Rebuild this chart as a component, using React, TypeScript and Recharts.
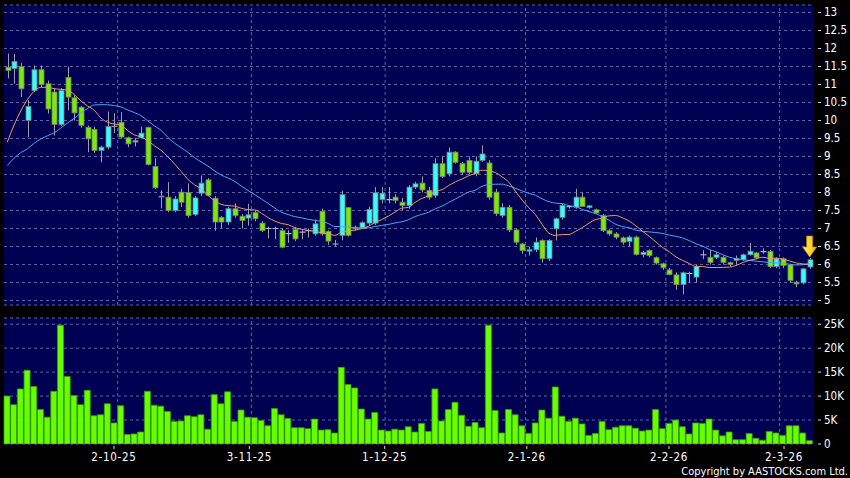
import React from 'react';
import {
  ComposedChart, Bar, Line, XAxis, YAxis, CartesianGrid, ReferenceLine, ReferenceDot,
} from 'recharts';

// daily candles, oldest first
const opens = [
  11.48, 11.44, 11.5, 10.0, 10.83, 11.41, 11.02, 10.79, 9.89, 11.2,
  10.63, 10.37, 9.81, 9.75, 9.17, 9.26, 9.84, 9.95, 9.52, 9.4,
  9.52, 9.81, 8.72, 7.9, 7.87, 7.5, 8.01, 8.0, 7.39, 7.98,
  8.35, 7.84, 7.31, 7.18, 7.55, 7.34, 7.29, 7.44, 7.15, 7.0,
  7.0, 6.94, 6.86, 6.97, 6.9, 6.94, 6.85, 7.48, 6.92, 6.57,
  6.81, 7.58, 7.0, 7.02, 7.15, 7.15, 7.8, 7.8, 7.87, 7.73,
  7.64, 8.15, 8.26, 8.06, 7.92, 8.8, 8.52, 9.12, 8.8, 8.89,
  8.52, 8.89, 8.82, 8.01, 7.36, 7.59, 6.96, 6.57, 6.37, 6.41,
  6.67, 6.16, 6.99, 7.31, 7.61, 7.59, 7.87, 7.58, 7.52, 7.36,
  6.94, 6.85, 6.74, 6.64, 6.76, 6.28, 6.39, 6.19, 6.02, 5.85,
  5.71, 5.44, 5.75, 5.65, 6.27, 6.2, 6.2, 6.2, 6.05, 6.11,
  6.14, 6.27, 6.32, 6.36, 6.36, 5.94, 6.16, 5.99, 5.51, 5.49,
  5.93,
];
const highs = [
  11.86, 11.85, 11.6, 10.56, 11.53, 11.53, 11.11, 10.9, 10.9, 11.5,
  10.7, 10.4, 9.86, 9.83, 9.3, 10.25, 10.2, 10.23, 9.55, 9.52,
  9.83, 9.83, 8.95, 8.06, 8.29, 7.9, 8.1, 8.25, 7.9, 8.47,
  8.4, 7.9, 7.35, 7.6, 7.7, 7.4, 7.69, 7.5, 7.2, 7.05,
  7.05, 7.0, 6.95, 7.05, 6.95, 7.0, 7.25, 7.55, 6.95, 6.68,
  8.05, 7.6, 7.08, 7.2, 7.6, 8.15, 8.15, 8.15, 7.95, 7.85,
  8.2, 8.3, 8.45, 8.15, 8.95, 9.0, 9.25, 9.15, 8.85, 9.0,
  9.0, 9.31, 8.9, 8.1, 7.7, 7.65, 7.0, 6.6, 6.5, 6.75,
  6.7, 6.7, 7.3, 7.7, 7.65, 8.1, 8.0, 7.65, 7.55, 7.4,
  6.98, 6.9, 6.78, 6.8, 6.8, 6.38, 6.42, 6.22, 6.05, 5.9,
  5.78, 5.8, 5.8, 6.0, 6.4, 6.4, 6.35, 6.25, 6.08, 6.25,
  6.3, 6.6, 6.35, 6.45, 6.4, 6.2, 6.2, 6.02, 5.55, 5.9,
  6.18,
];
const lows = [
  11.17, 11.02, 10.65, 9.54, 10.79, 10.93, 10.19, 9.58, 9.85, 10.28,
  10.0, 9.8, 9.12, 9.1, 8.84, 9.2, 9.65, 9.5, 9.26, 9.28,
  9.5, 8.75, 8.1, 7.56, 7.45, 7.45, 7.6, 7.3, 7.35, 7.9,
  7.9, 6.94, 7.0, 7.1, 7.3, 7.0, 7.08, 7.2, 6.9, 6.72,
  6.7, 6.45, 6.6, 6.65, 6.7, 6.75, 6.8, 6.8, 6.55, 6.5,
  6.67, 6.78, 6.95, 7.0, 7.1, 7.1, 7.7, 7.7, 7.7, 7.5,
  7.55, 8.1, 8.0, 7.8, 7.85, 8.4, 8.45, 8.8, 8.5, 8.5,
  8.45, 8.85, 7.8, 7.35, 7.3, 6.9, 6.55, 6.3, 6.25, 6.35,
  6.05, 6.1, 6.67, 7.25, 7.55, 7.55, 7.6, 7.55, 7.4, 6.9,
  6.8, 6.7, 6.55, 6.5, 6.25, 6.2, 6.2, 6.0, 5.85, 5.7,
  5.3, 5.17, 5.5, 5.5, 6.15, 6.0, 6.15, 6.0, 5.95, 6.0,
  6.1, 6.25, 6.15, 6.3, 5.9, 5.9, 5.9, 5.5, 5.37, 5.45,
  5.88,
];
const closes = [
  11.39, 11.64, 10.88, 10.39, 11.41, 11.0, 10.32, 9.89, 10.83, 10.65,
  10.21, 9.86, 9.49, 9.17, 9.26, 9.83, 9.84, 9.54, 9.35, 9.44,
  9.65, 8.78, 8.13, 7.89, 7.5, 7.82, 7.73, 7.36, 7.85, 8.26,
  7.92, 7.18, 7.18, 7.55, 7.36, 7.22, 7.38, 7.27, 6.94, 7.0,
  7.0, 6.48, 6.86, 6.71, 6.9, 6.94, 7.13, 6.85, 6.65, 6.57,
  7.94, 6.81, 7.02, 7.16, 7.53, 7.99, 7.98, 7.8, 7.78, 7.64,
  8.15, 8.24, 8.07, 7.87, 8.8, 8.44, 9.12, 8.84, 8.56, 8.56,
  8.87, 9.07, 7.87, 7.41, 7.59, 6.96, 6.62, 6.39, 6.41, 6.62,
  6.16, 6.67, 7.27, 7.64, 7.61, 7.87, 7.61, 7.63, 7.43, 6.94,
  6.85, 6.76, 6.62, 6.76, 6.28, 6.34, 6.25, 6.04, 5.91, 5.72,
  5.44, 5.77, 5.75, 5.94, 6.27, 6.06, 6.27, 6.06, 6.0, 6.16,
  6.27, 6.37, 6.19, 6.36, 5.94, 6.16, 5.97, 5.56, 5.46, 5.88,
  6.13,
];
// closes before the first visible day (only feed the moving averages)
const priorCloses = [
  7.6, 7.8, 8.2, 8.4, 8.6, 8.5, 8.3, 8.1, 7.9, 7.6,
  6.9, 7.0, 7.2, 9.1, 9.9, 10.3, 10.3, 11.0, 10.9,
];
// volume, thousands of shares
const volumes = [
  10.0, 8.2, 11.5, 15.4, 12.0, 7.2, 5.6, 11.0, 24.8, 14.1,
  10.1, 8.2, 11.2, 5.9, 6.1, 8.4, 4.4, 8.0, 2.0, 2.1,
  2.5, 11.0, 8.1, 7.9, 6.8, 4.7, 4.8, 5.9, 5.7, 6.1,
  3.1, 10.3, 8.4, 10.9, 4.7, 7.1, 5.6, 5.5, 4.9, 3.8,
  7.4, 6.1, 5.3, 3.4, 3.4, 3.2, 5.2, 2.9, 3.0, 2.3,
  16.0, 12.4, 11.7, 7.3, 5.2, 6.6, 2.9, 2.7, 3.1, 2.9,
  3.6, 2.5, 4.3, 2.6, 11.5, 4.8, 7.2, 8.7, 6.0, 3.7,
  4.5, 3.4, 24.8, 7.0, 2.3, 7.2, 6.1, 3.8, 2.2, 4.4,
  7.1, 5.4, 11.9, 5.8, 4.7, 5.4, 4.2, 1.8, 2.2, 4.7,
  3.0, 3.5, 3.8, 3.8, 3.3, 2.7, 2.9, 7.2, 3.2, 4.3,
  5.0, 3.6, 2.1, 4.4, 4.3, 5.2, 2.9, 1.7, 2.5, 0.9,
  0.9, 2.2, 1.2, 0.8, 2.6, 2.3, 1.8, 3.8, 3.8, 2.3,
  0.7,
];

const dateTickIdx = [16, 36, 56, 77, 98, 115];
const dateTickLabels = ['2-10-25', '3-11-25', '1-12-25', '2-1-26', '2-2-26', '2-3-26'];
const priceTicks = [5, 5.5, 6, 6.5, 7, 7.5, 8, 8.5, 9, 9.5, 10, 10.5, 11, 11.5, 12, 12.5, 13];
const volTicks = [0, 5, 10, 15, 20, 25];

const allCloses = [...priorCloses, ...closes];
const movingAvg = (n: number, i: number) => {
  const end = i + priorCloses.length;
  let s = 0;
  for (let k = end - n + 1; k <= end; k++) s += allCloses[k];
  return s / n;
};

const rows = closes.map((c, i) => ({
  i,
  o: opens[i],
  h: highs[i],
  l: lows[i],
  c,
  v: volumes[i],
  ma10: movingAvg(10, i),
  ma20: movingAvg(20, i),
}));

const BG = '#000052';
const GRID = '#6262a4';
const UP = '#33ffff';
const DOWN = '#77ee00';
const FONT = "'DejaVu Sans Condensed', 'DejaVu Sans', sans-serif";
const VOL_PLOT_BOTTOM = 134; // inside the volume chart's svg

const Candle = (props: any) => {
  const { x, y, width, height, payload } = props;
  const { o, h, l, c } = payload;
  const span = h - l || 1;
  const py = (p: number) => y + ((h - p) / span) * height;
  const mid = Math.round(x + width / 2) + 0.5;
  const top = py(Math.max(o, c));
  const bot = py(Math.min(o, c));
  return (
    <g>
      <line x1={mid} x2={mid} y1={y} y2={y + height} stroke="#a0a0a0" strokeWidth={1} />
      {o === c ? (
        <line x1={mid - 3} x2={mid + 3} y1={top} y2={top} stroke="#b4b4b4" strokeWidth={1.2} />
      ) : (
        <rect
          x={mid - 2.5}
          y={top}
          width={5}
          height={Math.max(1, bot - top)}
          fill={c > o ? UP : DOWN}
          stroke="#7a7a7a"
          strokeWidth={0.8}
        />
      )}
    </g>
  );
};

const Arrow = (props: any) => {
  const { cx, cy } = props;
  const tip = cy - 1;
  const pts = [
    [cx - 3, tip - 21], [cx + 3, tip - 21], [cx + 3, tip - 10], [cx + 7, tip - 10],
    [cx, tip], [cx - 7, tip - 10], [cx - 3, tip - 10],
  ].map((p) => p.join(',')).join(' ');
  return (
    <g>
      <defs>
        <linearGradient id="arrowFill" x1="0" y1="0" x2="1" y2="0">
          <stop offset="0" stopColor="#fff27a" />
          <stop offset="0.6" stopColor="#ffd21a" />
          <stop offset="1" stopColor="#e9a800" />
        </linearGradient>
      </defs>
      <polygon points={pts} fill="url(#arrowFill)" stroke="#c08a00" strokeWidth={0.7} />
    </g>
  );
};

const ValueTick = (fmt: (v: number) => string) => (props: any) => {
  const { x, y, payload } = props;
  return (
    <g>
      <line x1={x + 5} x2={x + 8} y1={y} y2={y} stroke="#d8d8d8" />
      <text x={x + 11} y={y + 4} fill="#ffffff" fontSize={11.5} fontFamily={FONT} fontStretch="condensed" textAnchor="start">
        {fmt(payload.value)}
      </text>
    </g>
  );
};

const DateTick = (props: any) => {
  const { x, payload } = props;
  const label = dateTickLabels[dateTickIdx.indexOf(payload.value)];
  return (
    <g>
      <line x1={x} x2={x} y1={VOL_PLOT_BOTTOM + 2} y2={VOL_PLOT_BOTTOM + 5} stroke="#d8d8d8" />
      <text
        x={x}
        y={VOL_PLOT_BOTTOM + 17}
        fill="#ffffff"
        fontSize={11.5}
        fontFamily={FONT}
        fontStretch="condensed"
        letterSpacing={0.7}
        textAnchor="middle"
      >
        {label}
      </text>
    </g>
  );
};

export default function App() {
  return (
    <div style={{ position: 'absolute', left: 0, top: 0, width: 850, height: 478, background: '#000' }}>
      <div style={{ position: 'absolute', left: 0, top: 0 }}>
        <ComposedChart width={850} height={310} data={rows} margin={{ top: 5, right: 0, bottom: 5, left: 4 }}>
          <CartesianGrid vertical={false} stroke={GRID} strokeDasharray="3 3" fill={BG} />
          <XAxis dataKey="i" type="category" hide />
          <YAxis
            orientation="right"
            width={37}
            domain={[4.875, 13.208]}
            allowDataOverflow
            ticks={priceTicks}
            interval={0}
            axisLine={false}
            tickLine={false}
            tickSize={0}
            tickMargin={0}
            tick={ValueTick((v) => String(v))}
          />
          {dateTickIdx.map((d) => (
            <ReferenceLine key={d} x={d} position="end" stroke={GRID} strokeDasharray="3 3" />
          ))}
          <Bar dataKey={(d: any) => [d.l, d.h]} barSize={5} shape={Candle} isAnimationActive={false} />
          <Line dataKey="ma20" type="monotone" stroke="#4aa8f0" strokeWidth={1} dot={false} isAnimationActive={false} />
          <Line dataKey="ma10" type="monotone" stroke="#f09a60" strokeWidth={1} dot={false} isAnimationActive={false} />
          <ReferenceDot x={120} y={highs[120]} r={0} shape={Arrow} ifOverflow="visible" />
        </ComposedChart>
      </div>
      <div style={{ position: 'absolute', left: 0, top: 310 }}>
        <ComposedChart width={850} height={168} data={rows} margin={{ top: 8, right: 0, bottom: 0, left: 4 }}>
          <CartesianGrid vertical={false} stroke={GRID} strokeDasharray="3 3" fill={BG} />
          <XAxis xAxisId="bars" dataKey="i" type="category" hide />
          <XAxis
            xAxisId="dates"
            dataKey="i"
            type="number"
            domain={[-0.25, 119.28]}
            allowDataOverflow
            ticks={dateTickIdx}
            interval={0}
            height={34}
            axisLine={false}
            tickLine={false}
            tickSize={0}
            tickMargin={0}
            tick={DateTick}
          />
          <YAxis
            orientation="right"
            width={37}
            domain={[0, 26.3]}
            allowDataOverflow
            ticks={volTicks}
            interval={0}
            axisLine={false}
            tickLine={false}
            tickSize={0}
            tickMargin={0}
            tick={ValueTick((v) => (v === 0 ? '0' : `${v}K`))}
          />
          {dateTickIdx.map((d) => (
            <ReferenceLine key={d} xAxisId="bars" x={d} position="end" stroke={GRID} strokeDasharray="3 3" />
          ))}
          <Bar xAxisId="bars" dataKey="v" barSize={6} fill="#66ff00" stroke="#3c9c00" strokeWidth={0.8} isAnimationActive={false} />
        </ComposedChart>
      </div>
      <div
        style={{
          position: 'absolute', right: 2, top: 466, color: '#fff', fontFamily: FONT, fontStretch: 'condensed',
          fontSize: 11, lineHeight: '11px', whiteSpace: 'nowrap',
        }}
      >
        Copyright by AASTOCKS.com Ltd.
      </div>
    </div>
  );
}
